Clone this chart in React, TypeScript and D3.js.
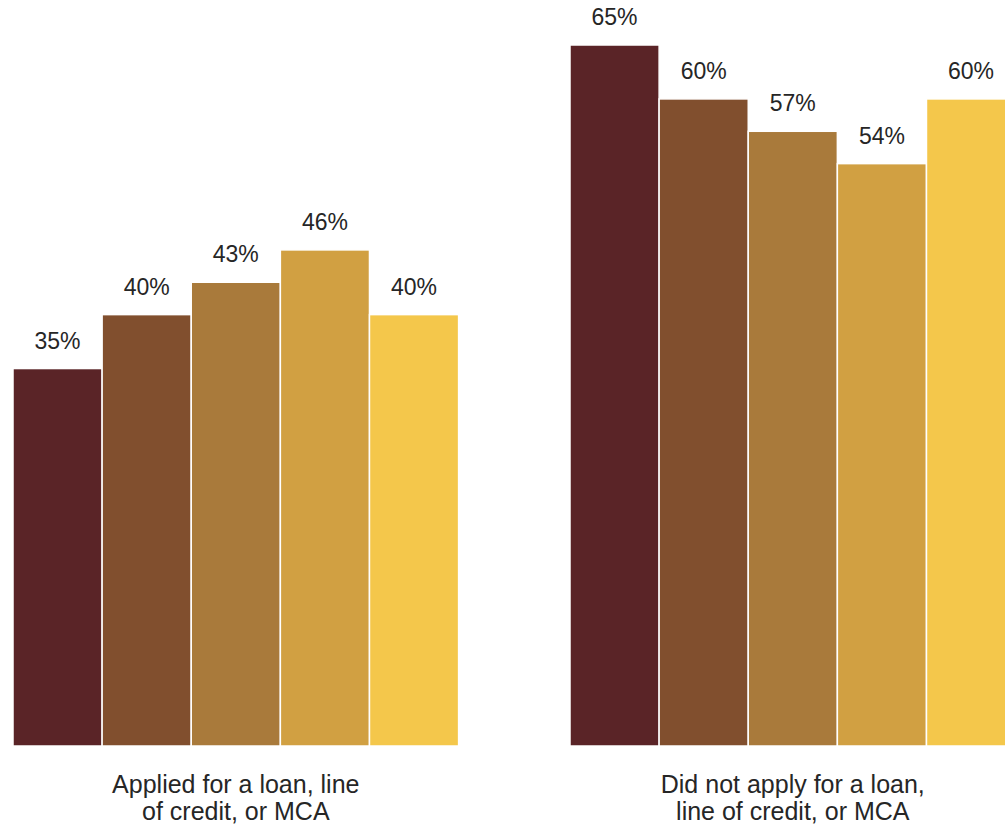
import React from "react";
import * as d3 from "d3";

const groups = ["Applied for a loan, line\nof credit, or MCA", "Did not apply for a loan,\nline of credit, or MCA"];
const seriesNames = ["S1", "S2", "S3", "S4", "S5"];
const appliedValues = [35, 40, 43, 46, 40];
const notAppliedValues = [65, 60, 57, 54, 60];
const colors = ["#5a2427", "#814f2e", "#a97a3b", "#d1a042", "#f4c74b"];

const W = 1005;
const H = 826;

export default function App() {
  const data = [appliedValues, notAppliedValues];
  const x = d3.scaleLinear().domain([-0.4, 1.4]).range([13, 13 + 1.8 * 557]);
  const y = d3.scaleLinear().domain([0, 65]).range([746, 45]);
  const bw = 0.8 / seriesNames.length;
  const font = "'Liberation Sans', Arial, sans-serif";
  return (
    <svg width={W} height={H} style={{ position: "absolute", left: 0, top: 0, background: "#fff" }}>
      {data.map((vals, g) =>
        vals.map((v, i) => {
          const x0 = x(g - 0.4 + i * bw);
          const x1 = x(g - 0.4 + (i + 1) * bw);
          return (
            <g key={`${g}-${i}`}>
              <rect x={x0} y={y(v)} width={x1 - x0} height={y(0) - y(v)} fill={colors[i]} stroke="#fff" strokeWidth={1.5} />
              <text x={(x0 + x1) / 2} y={y(v) - 20} textAnchor="middle" fontFamily={font} fontSize={23} fill="#262626">
                {`${v}%`}
              </text>
            </g>
          );
        })
      )}
      {groups.map((label, g) => (
        <text key={g} x={x(g)} y={793} textAnchor="middle" fontFamily={font} fontSize={25} fill="#262626">
          {label.split("\n").map((line, k) => (
            <tspan key={k} x={x(g)} dy={k === 0 ? 0 : 27}>
              {line}
            </tspan>
          ))}
        </text>
      ))}
    </svg>
  );
}
